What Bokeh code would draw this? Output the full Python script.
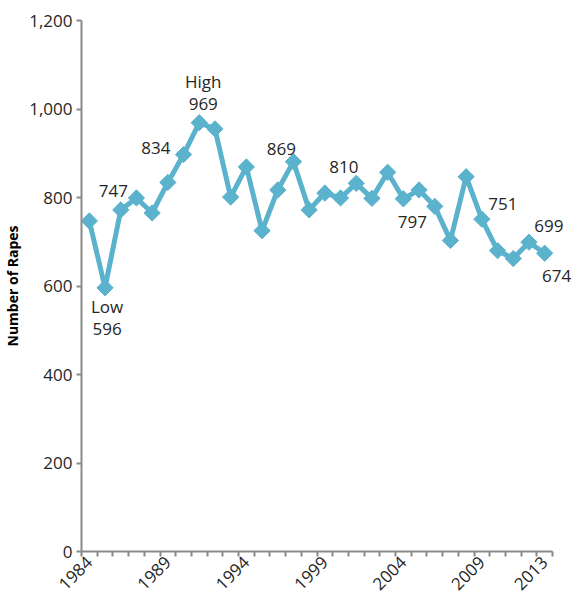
import math
from bokeh.plotting import figure
from bokeh.models import (ColumnDataSource, Range1d, FixedTicker, NumeralTickFormatter,
                          LabelSet)
from bokeh.core.properties import value
from bokeh.embed import file_html
from bokeh.resources import INLINE

# ---- data ----
years = list(range(1984, 2014))
rapes = [747, 596, 772, 799, 765, 834, 897, 969, 955, 801,
         869, 725, 817, 881, 772, 810, 799, 832, 798, 857,
         797, 817, 780, 703, 847, 751, 680, 662, 699, 674]
label_years = [1984, 1989, 1994, 1999, 2004, 2009, 2013]

# annotations: (year anchored, text, x offset px, y offset px)
ann_year = [1991, 1991, 1989, 1984, 1994, 1985, 1985, 1999, 2004, 2009, 2012, 2013]
ann_text = ["High", "969", "834", "747", "869", "Low", "596", "810", "797", "751", "699", "674"]
ann_dx = [4, 4, -12, 24, 35, 2, 2, 19, 9, 21, 20, 12]
ann_dy = [41, 19, 34, 30, 18, -19, -41, 26, -23, 15, 16, -23]

FONT = "Open Sans"
LINE_COLOR = "#5BB2CC"
AXIS_COLOR = "#898989"
TEXT_COLOR = "#262626"

W, H = 579, 603
LEFT, RIGHT, TOP, BOTTOM = 81, 4, 20, 52
x0, x1_axis = years[0] - 0.5, years[-1] + 0.5
px_per_year = 471 / (x1_axis - x0)
x_end = x0 + (W - LEFT - RIGHT) / px_per_year

p = figure(width=W, height=H, output_backend="svg", toolbar_location=None,
           x_range=Range1d(x0, x_end), y_range=Range1d(0, 1200),
           min_border_left=LEFT, min_border_right=RIGHT, min_border_top=TOP,
           min_border_bottom=BOTTOM)
p.outline_line_color = None
p.xgrid.visible = False
p.ygrid.visible = False
p.background_fill_color = "white"

src = ColumnDataSource(dict(year=years, value=rapes))
p.line("year", "value", source=src, line_color=LINE_COLOR, line_width=5)
p.scatter("year", "value", source=src, marker="square", angle=math.pi / 4,
          size=11.5, fill_color=LINE_COLOR, line_color=LINE_COLOR)

ann_value = [rapes[years.index(y)] for y in ann_year]
asrc = ColumnDataSource(dict(x=ann_year, y=ann_value, text=ann_text, dx=ann_dx, dy=ann_dy))
p.add_layout(LabelSet(x="x", y="y", text="text", x_offset="dx", y_offset="dy", source=asrc,
                      text_align="center", text_baseline="middle",
                      text_font=value(FONT), text_font_size=value("17px"),
                      text_color=TEXT_COLOR))

# y axis
ya = p.yaxis[0]
ya.ticker = FixedTicker(ticks=list(range(0, 1201, 200)))
ya.formatter = NumeralTickFormatter(format="0,0")
ya.axis_line_color = AXIS_COLOR
ya.axis_line_width = 2
ya.major_tick_line_color = AXIS_COLOR
ya.major_tick_line_width = 2
ya.major_tick_out = 5
ya.major_tick_in = 0
ya.minor_tick_line_color = None
ya.major_label_text_font = FONT
ya.major_label_text_font_size = "17px"
ya.major_label_text_color = TEXT_COLOR
ya.major_label_standoff = 4
ya.axis_label = "Number of Rapes"
ya.axis_label_text_font = FONT
ya.axis_label_text_font_size = "14px"
ya.axis_label_text_font_style = "bold"
ya.axis_label_text_color = "black"
ya.axis_label_standoff = 4

# x axis (drawn only over the data years)
xa = p.xaxis[0]
xa.bounds = (x0, x1_axis)
xa.ticker = FixedTicker(ticks=label_years,
                        minor_ticks=[y - 0.5 for y in years] + [years[-1] + 0.5])
xa.axis_line_color = AXIS_COLOR
xa.axis_line_width = 2
xa.major_tick_line_color = None
xa.minor_tick_line_color = AXIS_COLOR
xa.minor_tick_line_width = 2
xa.minor_tick_out = 5
xa.minor_tick_in = 0
xa.major_label_orientation = math.pi / 4
xa.major_label_text_font = FONT
xa.major_label_text_font_size = "17px"
xa.major_label_text_color = TEXT_COLOR
xa.major_label_standoff = 2

open("out.html", "w").write(file_html(p, INLINE))
